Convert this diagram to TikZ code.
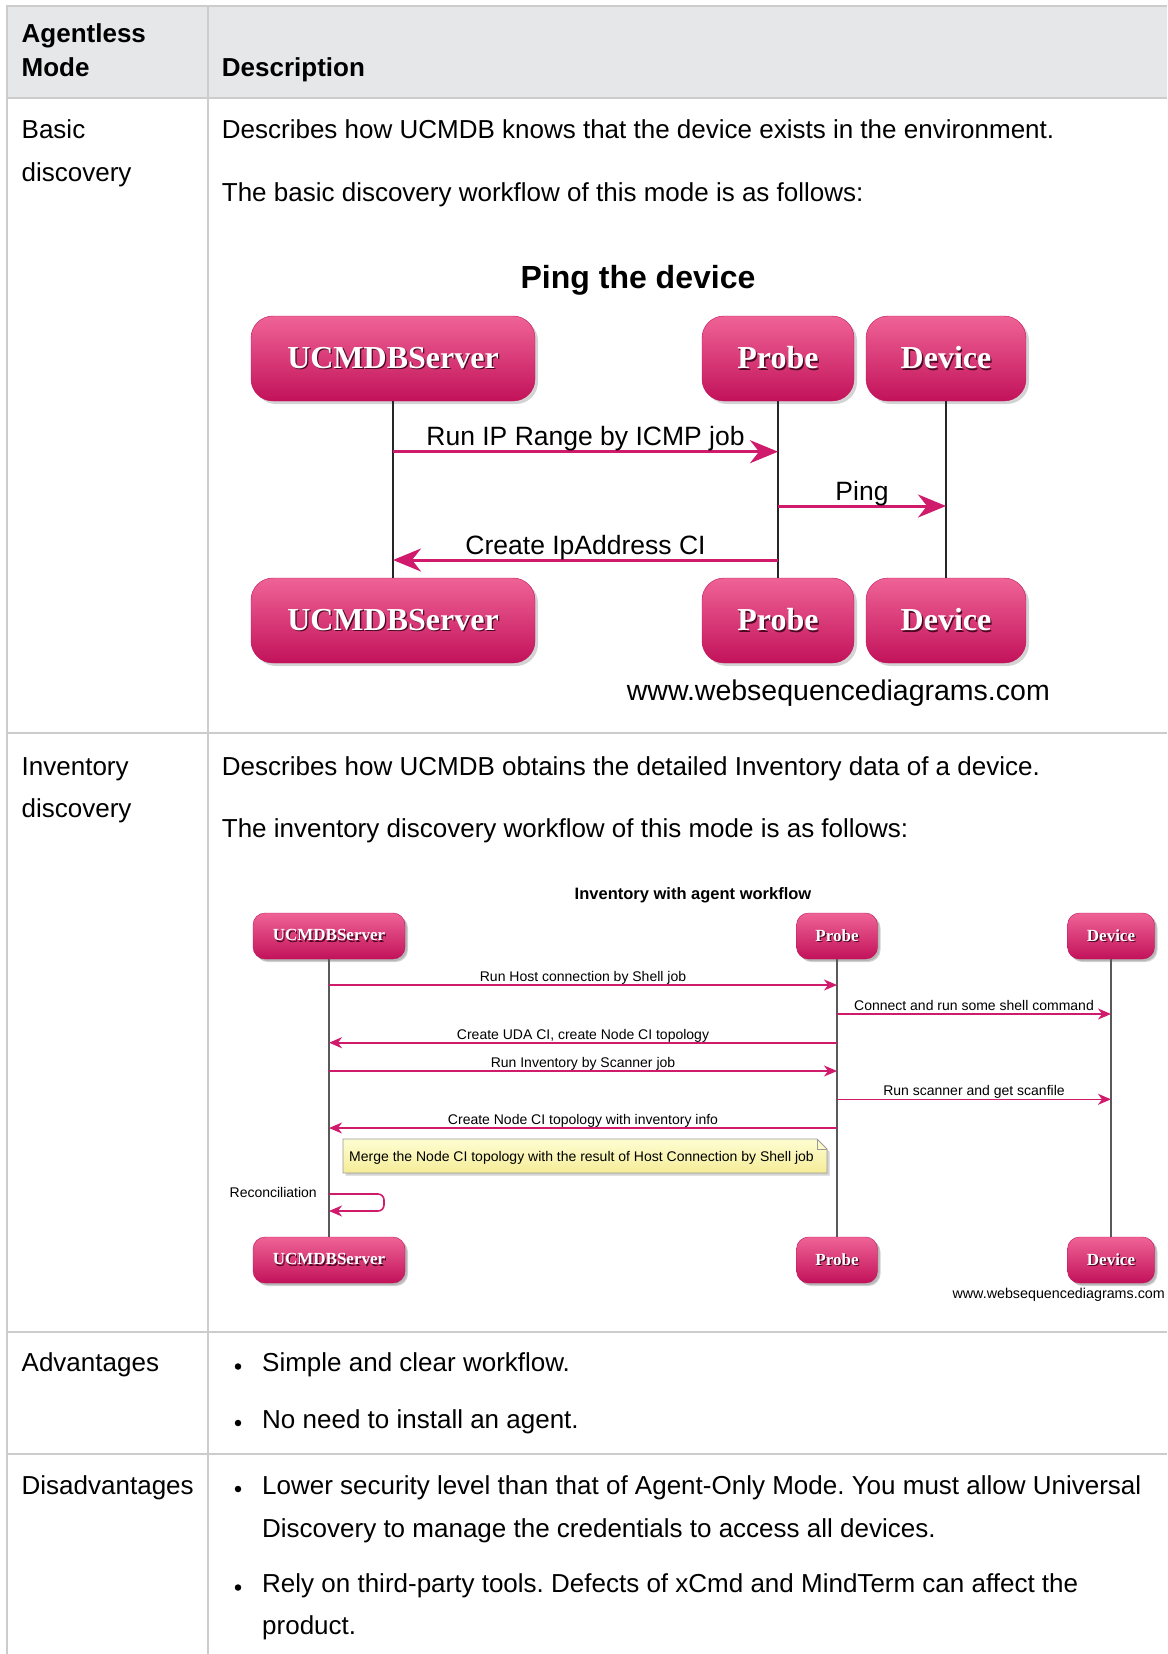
\documentclass[tikz,border=0pt]{standalone}
\usepackage{fontspec}
\setmainfont{Liberation Sans}
\newfontfamily\actorfont{Liberation Serif}
\usetikzlibrary{arrows.meta,shadows}
\definecolor{rulegray}{HTML}{CCCCCC}
\definecolor{headgray}{HTML}{E6E7E8}
\definecolor{actortop}{HTML}{EF6396}
\definecolor{actorbot}{HTML}{C2125A}
\definecolor{msgpink}{HTML}{D01B6C}
\definecolor{notetop}{HTML}{FEFDD2}
\definecolor{notebot}{HTML}{F5EC98}
\definecolor{actorshade}{HTML}{4B0823}
\newcommand{\actorname}[1]{\rlap{\kern1.3pt\raisebox{-1.3pt}{\color{actorshade}#1}}{\color{white}#1}}
\newcommand{\bodysize}{\fontsize{26}{42}\selectfont}
\frenchspacing

\begin{document}
\begin{tikzpicture}[x=1pt,y=-1pt,
  txt/.style={inner sep=0pt,anchor=base west,font=\bodysize},
  bulletdot/.style={circle,fill=black,inner sep=0pt,minimum size=6.5pt},
  bigactor/.style={rectangle,rounded corners=22pt,top color=actortop,bottom color=actorbot,
    draw=actorbot,minimum height=85pt,inner sep=0pt,
    drop shadow={shadow xshift=3pt,shadow yshift=-3pt,opacity=.35},
    font=\actorfont\bfseries\fontsize{32}{32}\selectfont},
  smallactor/.style={bigactor,rounded corners=12pt,minimum height=46pt,
    drop shadow={shadow xshift=2pt,shadow yshift=-2pt,opacity=.35},
    font=\actorfont\bfseries\fontsize{17}{17}\selectfont},
  lifeA/.style={draw=black!85,line width=1.4pt},
  lifeB/.style={draw=black!65,line width=1.1pt},
  bigmsg/.style={draw=msgpink,line width=3pt,-{Stealth[length=28pt,width=23pt,inset=9pt]}},
  smallmsg/.style={draw=msgpink,line width=1.6pt,-{Stealth[length=13pt,width=11pt,inset=4pt]}},
  biglabel/.style={inner sep=0pt,anchor=base,yshift=6pt,font=\fontsize{26.5}{26.5}\selectfont},
  smalllabel/.style={inner sep=0pt,anchor=base,yshift=3.5pt,font=\fontsize{14}{14}\selectfont}]
  \useasboundingbox (0,0) rectangle (1167,1654);

  % table
  \fill[headgray] (7,6) rectangle (1167,98);
  \draw[rulegray,line width=2.5pt] (1167,6) -- (7,6) -- (7,1654);
  \draw[rulegray,line width=2.5pt] (208,6) -- (208,1654);
  \foreach \y in {98,733,1332,1454}
    \draw[rulegray,line width=2.5pt] (7,\y) -- (1167,\y);

  \node[txt,font=\bodysize\bfseries] (hdagent) at (21.5,42.8) {Agentless};
  \node[txt,font=\bodysize\bfseries] (hdmode) at (21.5,76.5) {Mode};
  \node[txt,font=\bodysize\bfseries] (hddesc) at (221.7,76.5) {Description};

  \node[txt] (basic1) at (21.5,138.7) {Basic};
  \node[txt] (basic2) at (21.5,181) {discovery};
  \node[txt] (bdesc1) at (221.7,138.7) {Describes how UCMDB knows that the device exists in the environment.};
  \node[txt] (bdesc2) at (221.7,201) {The basic discovery workflow of this mode is as follows:};

  % ping diagram
  \node[anchor=base,inner sep=0pt,font=\bfseries\fontsize{32}{32}\selectfont] (pingtitle) at (638,288) {Ping the device};
  \node[bigactor,minimum width=284pt] (srvA) at (393,358.5) {\actorname{UCMDBServer}};
  \node[bigactor,minimum width=152pt] (prbA) at (778,358.5) {\actorname{Probe}};
  \node[bigactor,minimum width=160pt] (devA) at (946,358.5) {\actorname{Device}};
  \node[bigactor,minimum width=284pt] (srvAend) at (393,620.5) {\actorname{UCMDBServer}};
  \node[bigactor,minimum width=152pt] (prbAend) at (778,620.5) {\actorname{Probe}};
  \node[bigactor,minimum width=160pt] (devAend) at (946,620.5) {\actorname{Device}};
  \draw[lifeA] (srvA) -- (srvAend);
  \draw[lifeA] (prbA) -- (prbAend);
  \draw[lifeA] (devA) -- (devAend);
  \draw[bigmsg] (srvA |- 0,451.7) -- (prbA |- 0,451.7) node[biglabel,midway] (ping1) {Run IP Range by ICMP job};
  \draw[bigmsg] (prbA |- 0,506) -- (devA |- 0,506) node[biglabel,midway] (ping2) {Ping};
  \draw[bigmsg] (prbA |- 0,560) -- (srvA |- 0,560) node[biglabel,midway] (ping3) {Create IpAddress CI};
  \node[anchor=base east,inner sep=0pt,font=\fontsize{28.5}{28.5}\selectfont] (wsdA) at (1050,700) {www.websequencediagrams.com};

  \node[txt] (inv1) at (21.5,775) {Inventory};
  \node[txt] (inv2) at (21.5,817) {discovery};
  \node[txt] (idesc1) at (221.7,775) {Describes how UCMDB obtains the detailed Inventory data of a device.};
  \node[txt] (idesc2) at (221.7,837) {The inventory discovery workflow of this mode is as follows:};

  % inventory diagram
  \node[anchor=base,inner sep=0pt,font=\bfseries\fontsize{16.5}{16.5}\selectfont] (invtitle) at (693,899) {Inventory with agent workflow};
  \node[smallactor,minimum width=152pt] (srvB) at (329,936) {\actorname{UCMDBServer}};
  \node[smallactor,minimum width=81pt] (prbB) at (837,936) {\actorname{Probe}};
  \node[smallactor,minimum width=87pt] (devB) at (1111,936) {\actorname{Device}};
  \node[smallactor,minimum width=152pt] (srvBend) at (329,1260) {\actorname{UCMDBServer}};
  \node[smallactor,minimum width=81pt] (prbBend) at (837,1260) {\actorname{Probe}};
  \node[smallactor,minimum width=87pt] (devBend) at (1111,1260) {\actorname{Device}};
  \draw[lifeB] (srvB) -- (srvBend);
  \draw[lifeB] (prbB) -- (prbBend);
  \draw[lifeB] (devB) -- (devBend);
  \draw[smallmsg] (srvB |- 0,985) -- (prbB |- 0,985) node[smalllabel,midway] (inv1msg) {Run Host connection by Shell job};
  \draw[smallmsg] (prbB |- 0,1014) -- (devB |- 0,1014) node[smalllabel,midway] (inv2msg) {Connect and run some shell command};
  \draw[smallmsg] (prbB |- 0,1042.7) -- (srvB |- 0,1042.7) node[smalllabel,midway] (inv3msg) {Create UDA CI, create Node CI topology};
  \draw[smallmsg] (srvB |- 0,1071) -- (prbB |- 0,1071) node[smalllabel,midway] (inv4msg) {Run Inventory by Scanner job};
  \draw[smallmsg] (prbB |- 0,1099.3) -- (devB |- 0,1099.3) node[smalllabel,midway] (inv5msg) {Run scanner and get scanfile};
  \draw[smallmsg] (prbB |- 0,1128) -- (srvB |- 0,1128) node[smalllabel,midway] (inv6msg) {Create Node CI topology with inventory info};
  \path[top color=notetop,bottom color=notebot,draw=black!40,line width=0.8pt,
    drop shadow={shadow xshift=2.5pt,shadow yshift=-2.5pt,opacity=.35}]
    (343,1139) -- (817,1139) -- (827,1149) -- (827,1173) -- (343,1173) -- cycle;
  \draw[black!40,line width=0.8pt] (817,1139) -- (817,1149) -- (827,1149);
  \node[anchor=base west,inner sep=0pt,font=\fontsize{14}{14}\selectfont] (merge) at (349,1161.5) {Merge the Node CI topology with the result of Host Connection by Shell job};
  \node[anchor=base east,inner sep=0pt,font=\fontsize{14}{14}\selectfont] (recon) at (317,1197.5) {Reconciliation};
  \draw[smallmsg,rounded corners=6pt] (srvB |- 0,1194) -- ++(55,0) -- ++(0,17) -- (srvB |- 0,1211);
  \node[anchor=base east,inner sep=0pt,font=\fontsize{14.3}{14.3}\selectfont] (wsdB) at (1165,1298) {www.websequencediagrams.com};

  % advantages / disadvantages
  \node[txt] (adv) at (21.5,1371.5) {Advantages};
  \node[bulletdot] (advb1) at (238,1366.5) {};
  \node[txt] (adv1) at (262,1371.5) {Simple and clear workflow.};
  \node[bulletdot] (advb2) at (238,1423) {};
  \node[txt] (adv2) at (262,1428) {No need to install an agent.};
  \node[txt] (dis) at (21.5,1494) {Disadvantages};
  \node[bulletdot] (disb1) at (238,1489) {};
  \node[txt] (dis1a) at (262,1494) {Lower security level than that of Agent-Only Mode. You must allow Universal};
  \node[txt] (dis1b) at (262,1537) {Discovery to manage the credentials to access all devices.};
  \node[bulletdot] (disb2) at (238,1587.5) {};
  \node[txt] (dis2a) at (262,1592.5) {Rely on third-party tools. Defects of xCmd and MindTerm can affect the};
  \node[txt] (dis2b) at (262,1634.5) {product.};
\end{tikzpicture}
\end{document}
